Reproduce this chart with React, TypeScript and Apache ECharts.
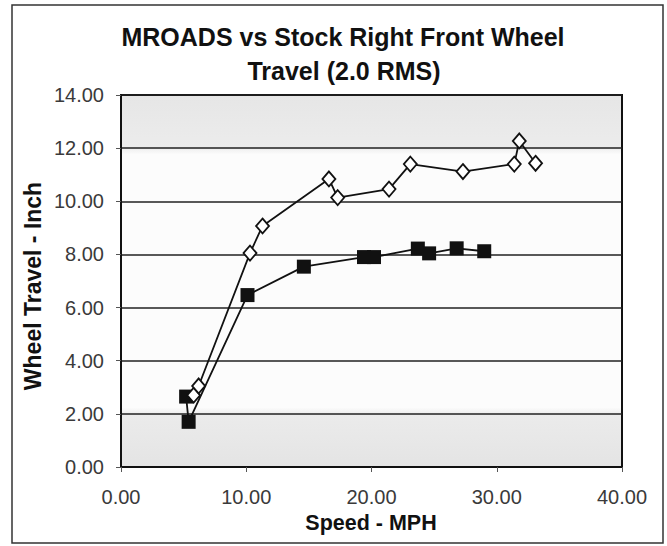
import React, { useEffect, useRef } from "react";
import * as echarts from "echarts";

const titleLines = ["MROADS vs Stock Right Front Wheel", "Travel (2.0 RMS)"];
const xAxisTitle = "Speed - MPH";
const yAxisTitle = "Wheel Travel - Inch";

const mroadsSpeed = [5.8, 6.2, 10.3, 11.3, 16.6, 17.3, 21.4, 23.1, 27.3, 31.4, 31.8, 33.1];
const mroadsTravel = [2.7, 3.05, 8.05, 9.07, 10.84, 10.14, 10.46, 11.4, 11.12, 11.4, 12.27, 11.43];

const stockSpeed = [5.2, 5.4, 10.1, 14.6, 19.4, 20.2, 23.7, 24.6, 26.8, 29.0];
const stockTravel = [2.65, 1.7, 6.47, 7.54, 7.9, 7.9, 8.22, 8.04, 8.23, 8.12];

const FONT = "'Liberation Sans', Arial, sans-serif";

export default function App() {
  const ref = useRef<HTMLDivElement>(null);
  useEffect(() => {
    if (!ref.current) return;
    const chart = echarts.init(ref.current, undefined, { renderer: "svg" });
    const mroads = mroadsSpeed.map((x, i) => [x, mroadsTravel[i]]);
    const stock = stockSpeed.map((x, i) => [x, stockTravel[i]]);
    chart.setOption({
      animation: false,
      backgroundColor: "#ffffff",
      grid: {
        left: 121,
        top: 95,
        right: 45,
        bottom: 79,
        show: true,
        borderColor: "#111",
        borderWidth: 2,
        backgroundColor: new echarts.graphic.LinearGradient(0, 0, 0, 1, [
          { offset: 0, color: "#e6e6e6" },
          { offset: 0.14, color: "#ececec" },
          { offset: 0.16, color: "#fcfcfc" },
          { offset: 0.84, color: "#fcfcfc" },
          { offset: 0.86, color: "#ebebeb" },
          { offset: 1, color: "#e4e4e4" },
        ]),
      },
      xAxis: {
        type: "value",
        min: 0,
        max: 40,
        interval: 10,
        axisLine: { show: true, onZero: false, lineStyle: { color: "#111", width: 2 } },
        axisTick: { show: true, length: 5, lineStyle: { color: "#555", width: 1 } },
        splitLine: { show: false },
        axisLabel: {
          margin: 20,
          fontSize: 20,
          color: "#3a3a3a",
          fontFamily: FONT,
          formatter: (v: number) => v.toFixed(2),
        },
      },
      yAxis: {
        type: "value",
        min: 0,
        max: 14,
        interval: 2,
        axisLine: { show: true, onZero: false, lineStyle: { color: "#111", width: 2 } },
        axisTick: { show: true, length: 5, lineStyle: { color: "#555", width: 1 } },
        splitLine: { show: true, lineStyle: { color: "#222", width: 1.5 } },
        axisLabel: {
          margin: 17,
          fontSize: 20,
          color: "#3a3a3a",
          fontFamily: FONT,
          formatter: (v: number) => v.toFixed(2),
        },
      },
      series: [
        {
          name: "MROADS",
          type: "line",
          data: mroads,
          symbol: "diamond",
          symbolSize: [13, 15],
          lineStyle: { color: "#111", width: 1.8 },
          itemStyle: { color: "#ffffff", borderColor: "#111", borderWidth: 1.8 },
          z: 3,
        },
        {
          name: "Stock",
          type: "line",
          data: stock,
          symbol: "rect",
          symbolSize: 14,
          lineStyle: { color: "#111", width: 1.8 },
          itemStyle: { color: "#111", borderColor: "#111", borderWidth: 0 },
          z: 2,
        },
      ],
      graphic: [
        {
          type: "rect",
          shape: { x: 12, y: 5, width: 651, height: 538 },
          style: { fill: "none", stroke: "#333", lineWidth: 1.5 },
          silent: true,
        },
        {
          type: "text",
          x: 343,
          y: 37,
          style: {
            text: titleLines[0],
            font: `bold 25px ${FONT}`,
            fill: "#111",
            textAlign: "center",
            textVerticalAlign: "middle",
          },
        },
        {
          type: "text",
          x: 344,
          y: 71,
          style: {
            text: titleLines[1],
            font: `bold 25px ${FONT}`,
            fill: "#111",
            textAlign: "center",
            textVerticalAlign: "middle",
          },
        },
        {
          type: "text",
          x: 371,
          y: 523,
          style: {
            text: xAxisTitle,
            font: `bold 21.5px ${FONT}`,
            fill: "#111",
            textAlign: "center",
            textVerticalAlign: "middle",
          },
        },
        {
          type: "text",
          x: 33,
          y: 286,
          rotation: Math.PI / 2,
          style: {
            text: yAxisTitle,
            font: `bold 23px ${FONT}`,
            fill: "#111",
            textAlign: "center",
            textVerticalAlign: "middle",
          },
        },
      ],
    });
    return () => chart.dispose();
  }, []);
  return (
    <div
      ref={ref}
      style={{ position: "fixed", left: 0, top: 0, width: 667, height: 546 }}
    />
  );
}
